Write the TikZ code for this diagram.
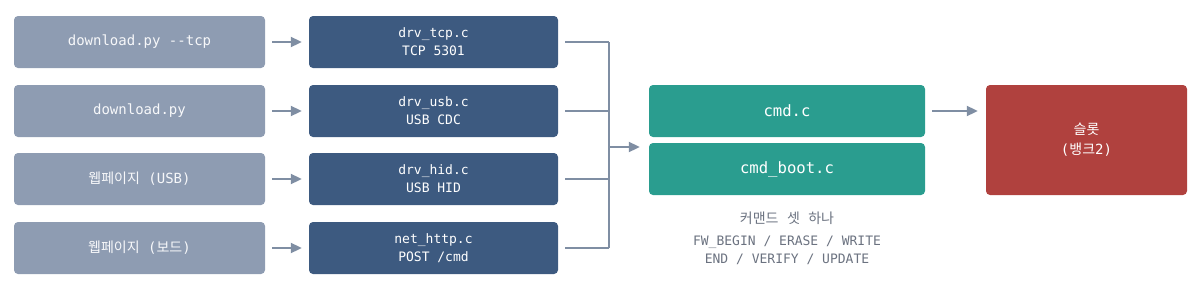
\documentclass[tikz,border=0pt]{standalone}
\usepackage{fontspec}
\usepackage{xcolor}
\usetikzlibrary{arrows.meta}
\setmonofont{DejaVu Sans Mono}
\newfontfamily\kr{Noto Sans CJK KR}
\definecolor{srcgray}{HTML}{8E9CB2}
\definecolor{drvblue}{HTML}{3D5A80}
\definecolor{cmdgreen}{HTML}{2A9D8F}
\definecolor{slotred}{HTML}{B0413E}
\definecolor{wirec}{HTML}{7F8EA3}
\definecolor{capgray}{HTML}{6B7280}

\begin{document}
\begin{tikzpicture}[x=1pt, y=-1pt,
    box/.style={rounded corners=4pt, align=center, inner sep=0pt, font=\ttfamily},
    src/.style={box, fill=srcgray, text=white!93!srcgray, minimum width=251pt, minimum height=52pt, font=\ttfamily\fontsize{14}{18}\selectfont},
    drv/.style={box, fill=drvblue, text=white, minimum width=249pt, minimum height=52pt, font=\ttfamily\fontsize{13}{18}\selectfont},
    cmdbox/.style={box, fill=cmdgreen, text=white, minimum width=276pt, minimum height=52pt, font=\ttfamily\fontsize{15.6}{18}\selectfont},
    wire/.style={draw=wirec, line width=2pt},
    arr/.style={wire, -{Triangle[length=11pt, width=10pt]}}]
    \useasboundingbox (0,0) rectangle (1202,292);
				\node[src] (Src1) at (139.5,42) {download.py -{}-tcp};
				\node[src] (Src2) at (139.5,111) {download.py};
				\node[src] (Src3) at (139.5,179) {{\kr 웹페이지} (USB)};
				\node[src] (Src4) at (139.5,248) {{\kr 웹페이지} ({\kr 보드})};
				\node[drv] (Drv1) at (433.5,42) {drv\_tcp.c\\TCP 5301};
				\node[drv] (Drv2) at (433.5,111) {drv\_usb.c\\USB CDC};
				\node[drv] (Drv3) at (433.5,179) {drv\_hid.c\\USB HID};
				\node[drv] (Drv4) at (433.5,248) {net\_http.c\\POST /cmd};
				\node[cmdbox] (Cmd) at (787,111) {cmd.c};
				\node[cmdbox] (CmdBoot) at (787,169) {cmd\_boot.c};
				\node[box, fill=slotred, text=white, minimum width=201pt, minimum height=110pt, font=\ttfamily\fontsize{14}{20}\selectfont] (Slot) at (1086.5,140) {{\kr 슬롯}\\({\kr 뱅크}2)};
				\node[text=capgray, font=\ttfamily\fontsize{14}{18}\selectfont] (CapTitle) at (787,218) {{\kr 커맨드} {\kr 셋} {\kr 하나}};
				\node[text=capgray, align=center, font=\ttfamily\fontsize{13}{18}\selectfont] (CapCmds) at (787,250) {FW\_BEGIN / ERASE / WRITE\\END / VERIFY / UPDATE};
				\coordinate (Bus1) at (609,42);
				\coordinate (Bus2) at (609,111);
				\coordinate (Bus3) at (609,179);
				\coordinate (Bus4) at (609,248);
				\coordinate (BusOut) at (609,147);
				\foreach \i in {1,...,4} {
				  \draw[arr, shorten <=7pt, shorten >=7pt] (Src\i) -- (Drv\i);
				  \draw[wire, shorten <=7pt] (Drv\i) -- (Bus\i);
				}
				\draw[wire] (Bus1) -- (Bus4);
				\draw[arr, shorten >=9pt] (BusOut) -- (BusOut -| Cmd.west);
				\draw[arr, shorten <=7pt, shorten >=8pt] (Cmd) -- (Cmd -| Slot.west);
			\end{tikzpicture}
\end{document}
